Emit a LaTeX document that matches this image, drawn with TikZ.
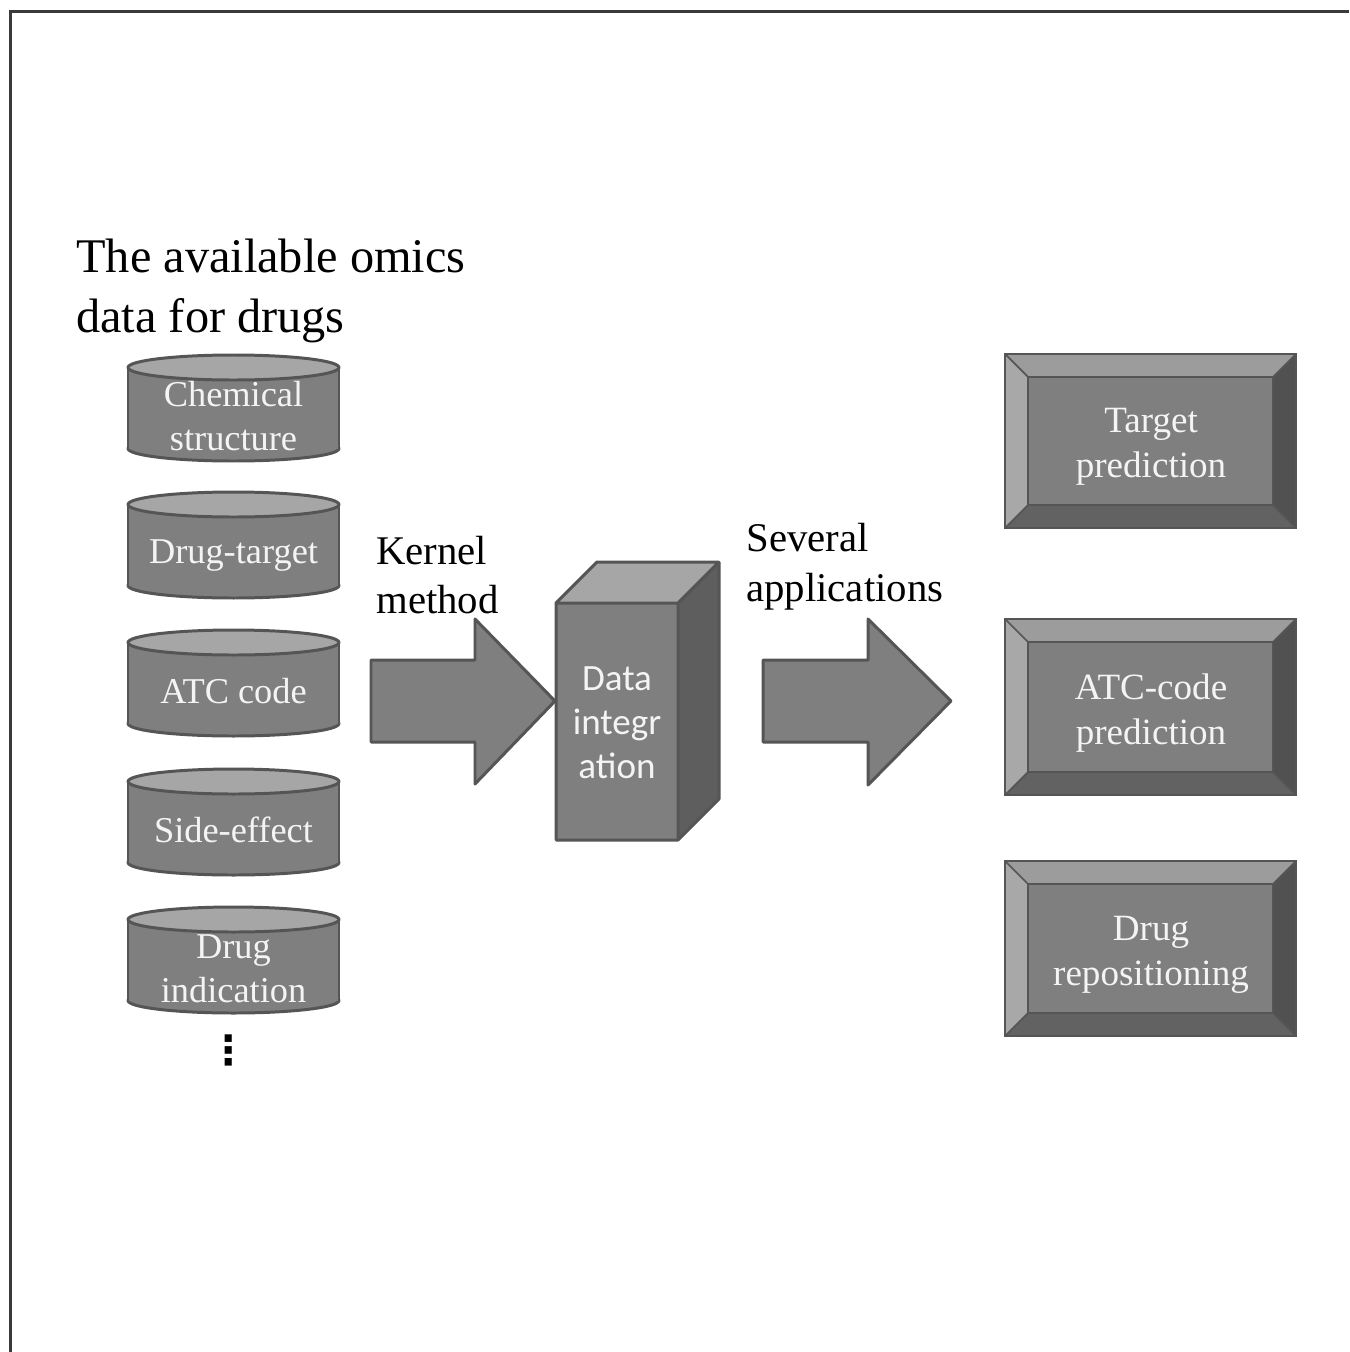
\documentclass[tikz,border=0pt]{standalone}
\usepackage{fontspec}
\setmainfont{Liberation Serif}
\newfontfamily\calib{Carlito}
\newfontfamily\dejab{DejaVu Sans Bold}
\definecolor{bodyg}{HTML}{7F7F7F}
\definecolor{topg}{HTML}{A6A6A6}
\definecolor{lineg}{HTML}{555555}
\definecolor{darkg}{HTML}{5E5E5E}
\definecolor{txtw}{HTML}{F4F4F4}
\definecolor{bevtop}{HTML}{9C9C9C}
\definecolor{bevleft}{HTML}{A8A8A8}
\definecolor{bevright}{HTML}{515151}
\definecolor{bevbot}{HTML}{626262}
\definecolor{frameg}{HTML}{3A3A3A}
\begin{document}
\begin{tikzpicture}[x=0.02cm,y=-0.02cm,
  shapeline/.style={draw=lineg,line width=1.7pt,line join=round},
  cyltext/.style={text=txtw,align=center,inner sep=0pt,font=\fontsize{20.7}{24.9}\selectfont},
  bevtext/.style={text=txtw,align=center,inner sep=0pt,font=\fontsize{21.1}{25.5}\selectfont},
  plaintext/.style={text=black,align=left,inner sep=0pt,anchor=west},
  boxtext/.style={text=txtw,align=center,inner sep=0pt,font=\calib\fontsize{21.1}{25}\selectfont}
]
\useasboundingbox (0,0) rectangle (1349,1352);
\fill[white] (0,0) rectangle (1349,1352);
% frame
\draw[frameg,line width=1.2pt] (10.5,1352) -- (10.5,11.5) -- (1349,11.5);

% title
\node[plaintext,font=\fontsize{27.5}{34}\selectfont] (title) at (76,291) {The available omics\\data for drugs};

% cylinders
\foreach \t/\dy/\nm/\txt in {355/61/chem/{Chemical\\structure},492/64/dt/{Drug-target},630/61/atc/{ATC code},769/61/se/{Side-effect},907/62/ind/{Drug\\indication}}{
  \pgfmathsetmacro{\b}{\t+106}
  \pgfmathsetmacro{\tc}{\t+12.5}
  \pgfmathsetmacro{\bc}{\b-12.5}
  \filldraw[fill=bodyg,shapeline] (233.5,\bc) ellipse [x radius=105.5,y radius=12.5];
  \fill[bodyg] (128,\tc) rectangle (339,\bc);
  \draw[shapeline] (128,\tc) -- (128,\bc) (339,\tc) -- (339,\bc);
  \filldraw[fill=topg,shapeline] (233.5,\tc) ellipse [x radius=105.5,y radius=12.5];
  \node[cyltext] (\nm) at (233.5,\t+\dy) {\txt};
}
% vertical dots
\node[inner sep=0pt,font=\dejab\fontsize{23}{23}\selectfont] (dots) at (229,1050) {⋮};

% kernel method label
\node[plaintext,font=\fontsize{23.2}{28.3}\selectfont] (kern) at (376,575) {Kernel\\method};

% arrow 1
\coordinate (a1s) at (371,701);
\coordinate (a1t) at (555,701);
\filldraw[fill=bodyg,shapeline] (a1s) ++(0,-41) -- ++(104,0) -- ++(0,-41) -- (a1t) -- ++(-80,83) -- ++(0,-42) -- ++(-104,0) -- cycle;

% data integration box
\fill[bodyg] (556,603) rectangle (678,840);
\fill[topg] (556,603) -- (597,562) -- (719,562) -- (678,603) -- cycle;
\fill[darkg] (678,603) -- (719,562) -- (719,799) -- (678,840) -- cycle;
\draw[shapeline] (556,603) -- (597,562) -- (719,562) -- (719,799) -- (678,840) -- (556,840) -- cycle
  (556,603) -- (678,603) -- (719,562) (678,603) -- (678,840);
\node[boxtext] (integ) at (617,723) {Data\\integr\\ation};

% several applications label
\node[plaintext,font=\fontsize{23.2}{28.3}\selectfont] (sev) at (746,567) {Several\\applications};

% arrow 2
\coordinate (a2s) at (763,701);
\coordinate (a2t) at (951,701);
\filldraw[fill=bodyg,shapeline] (a2s) ++(0,-41) -- ++(105,0) -- ++(0,-41) -- (a2t) -- ++(-83,84) -- ++(0,-43) -- ++(-105,0) -- cycle;

% bevel boxes
\foreach \ya/\yb/\nm/\txt in {354/528/tp/{Target\\prediction},619/795/ap/{ATC-code\\prediction},861/1036/dr/{Drug\\repositioning}}{
  \pgfmathsetmacro{\yi}{\ya+23}
  \pgfmathsetmacro{\yj}{\yb-23}
  \fill[bodyg] (1028,\yi) rectangle (1273,\yj);
  \fill[bevtop] (1005,\ya) -- (1296,\ya) -- (1273,\yi) -- (1028,\yi) -- cycle;
  \fill[bevleft] (1005,\ya) -- (1028,\yi) -- (1028,\yj) -- (1005,\yb) -- cycle;
  \fill[bevright] (1296,\ya) -- (1296,\yb) -- (1273,\yj) -- (1273,\yi) -- cycle;
  \fill[bevbot] (1005,\yb) -- (1296,\yb) -- (1273,\yj) -- (1028,\yj) -- cycle;
  \draw[lineg,line width=1pt] (1005,\ya) rectangle (1296,\yb) (1028,\yi) rectangle (1273,\yj)
    (1005,\ya) -- (1028,\yi) (1296,\ya) -- (1273,\yi) (1296,\yb) -- (1273,\yj) (1005,\yb) -- (1028,\yj);
  \node[bevtext] (\nm) at (1151,{(\ya+\yb)/2+6}) {\txt};
}
\end{tikzpicture}
\end{document}
